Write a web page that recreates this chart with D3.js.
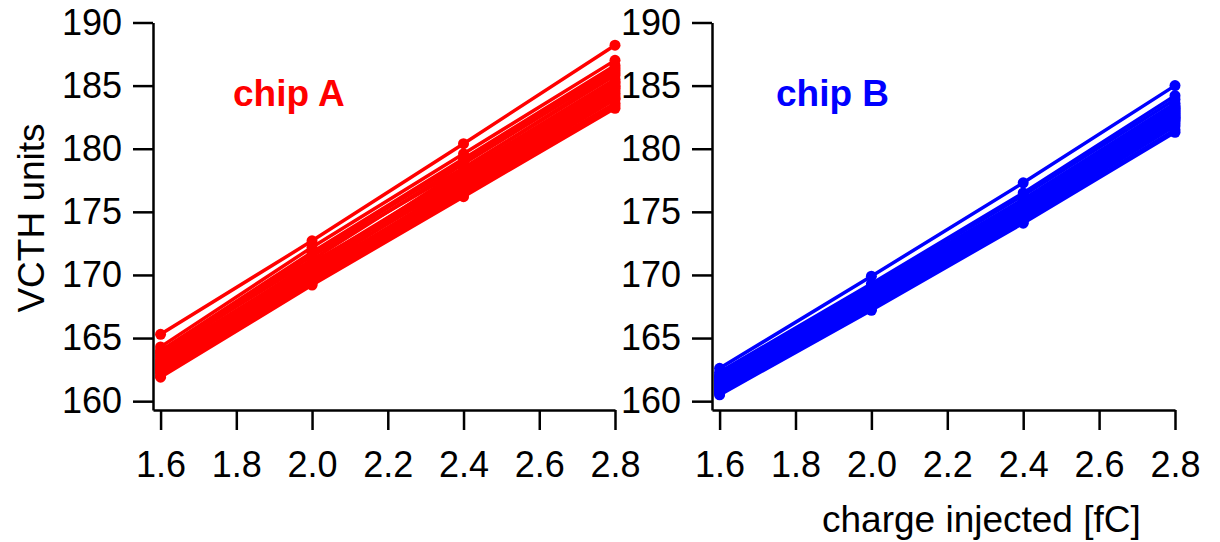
<!DOCTYPE html>
<html>
<head>
<meta charset="utf-8">
<script src="https://cdn.jsdelivr.net/npm/d3@7"></script>
<style>
  body { margin: 0; background: #fff; }
  svg { display: block; font-family: "Liberation Sans", Arial, sans-serif; }
</style>
</head>
<body>
<svg id="chart" width="1220" height="542"></svg>
<script>
// charge injected (fC) for every scan point
var charges = [1.6, 2.0, 2.4, 2.8];
var xTicks = [1.6, 1.8, 2.0, 2.2, 2.4, 2.6, 2.8];
var yTicks = [160, 165, 170, 175, 180, 185, 190];

// VCTH threshold per channel, chip A (one row = one channel)
var chipA = [
  [165.3, 172.7, 180.4, 188.2],
  [164.3, 172.2, 179.6, 187.0],
  [164.0, 171.8, 179.2, 186.6],
  [163.9, 171.6, 179.0, 186.4],
  [163.8, 171.2, 178.8, 186.2],
  [163.6, 171.5, 178.5, 185.8],
  [163.5, 170.9, 178.2, 185.5],
  [163.3, 170.7, 178.0, 185.3],
  [163.2, 171.0, 177.8, 185.0],
  [163.1, 170.6, 178.4, 186.0],
  [163.0, 170.5, 177.6, 184.8],
  [162.9, 170.3, 177.9, 185.2],
  [162.8, 170.2, 177.3, 184.6],
  [162.7, 170.0, 177.1, 184.4],
  [162.6, 169.9, 177.5, 184.9],
  [162.5, 170.1, 176.9, 184.2],
  [162.4, 169.7, 177.0, 184.0],
  [162.3, 169.6, 176.7, 183.9],
  [162.2, 169.5, 176.6, 183.6],
  [162.0, 169.3, 176.4, 183.4],
  [161.9, 169.2, 176.2, 183.2]
];

// chip B
var chipB = [
  [162.6, 169.9, 177.3, 185.0],
  [162.3, 169.3, 176.5, 184.2],
  [162.1, 169.1, 176.3, 183.9],
  [162.0, 168.9, 176.0, 183.6],
  [161.9, 168.7, 175.6, 183.1],
  [161.8, 168.8, 175.9, 183.4],
  [161.7, 168.6, 175.7, 183.2],
  [161.6, 168.5, 175.5, 183.0],
  [161.5, 168.4, 175.4, 182.9],
  [161.4, 168.3, 175.3, 182.8],
  [161.4, 168.6, 175.8, 183.3],
  [161.3, 168.2, 175.1, 182.6],
  [161.2, 168.1, 175.0, 182.5],
  [161.1, 168.0, 174.9, 182.4],
  [161.0, 167.9, 174.8, 182.3],
  [160.9, 167.8, 174.7, 182.2],
  [160.9, 168.0, 175.2, 182.7],
  [160.8, 167.6, 174.5, 182.0],
  [160.7, 167.5, 174.4, 181.8],
  [160.6, 167.3, 174.2, 181.5],
  [160.5, 167.2, 174.1, 181.3]
];

var svg = d3.select("#chart");
var top_y = 22.5, bottom_y = 410;

function drawPanel(data, left, right, color, label, labelX) {
  var x = d3.scaleLinear().domain([1.58, 2.8]).range([left, right]);
  var y = d3.scaleLinear().domain([159.3, 190]).range([bottom_y, top_y]);
  var g = svg.append("g");

  // y axis
  var ya = g.append("g")
    .attr("transform", `translate(${left},0)`)
    .call(d3.axisLeft(y).tickValues(yTicks).tickSize(20).tickSizeOuter(0).tickPadding(11));
  // x axis
  var xa = g.append("g")
    .attr("transform", `translate(0,${bottom_y})`)
    .call(d3.axisBottom(x).tickValues(xTicks).tickFormat(d3.format(".1f"))
      .tickSize(20).tickSizeOuter(0).tickPadding(21));
  [ya, xa].forEach(a => {
    a.select(".domain").attr("stroke", "#000").attr("stroke-width", 2.5);
    a.selectAll(".tick line").attr("stroke", "#000").attr("stroke-width", 2.5);
    a.selectAll(".tick text").attr("fill", "#000").style("font-size", "36px")
      .style("font-family", '"Liberation Sans", Arial, sans-serif');
  });

  var line = d3.line().x((d, i) => x(charges[i])).y(d => y(d));
  g.append("g").selectAll("path")
    .data(data).join("path")
    .attr("d", line)
    .attr("fill", "none")
    .attr("stroke", color)
    .attr("stroke-width", 3.5);

  g.append("g").selectAll("circle")
    .data(data.flatMap(row => row.map((v, i) => ({c: charges[i], v: v}))))
    .join("circle")
    .attr("cx", d => x(d.c))
    .attr("cy", d => y(d.v))
    .attr("r", 5.5)
    .attr("fill", color);

  g.append("text")
    .attr("x", labelX)
    .attr("y", 106)
    .attr("fill", color)
    .style("font-size", "37px")
    .style("font-weight", "bold")
    .text(label);
}

drawPanel(chipA, 153, 615, "#ff0000", "chip A", 233);
drawPanel(chipB, 712, 1175, "#0000ff", "chip B", 776);

svg.append("text")
  .attr("transform", "translate(44,218) rotate(-90)")
  .attr("text-anchor", "middle")
  .style("font-size", "37px")
  .text("VCTH units");

svg.append("text")
  .attr("x", 822)
  .attr("y", 532)
  .style("font-size", "37px")
  .text("charge injected [fC]");
</script>
</body>
</html>
